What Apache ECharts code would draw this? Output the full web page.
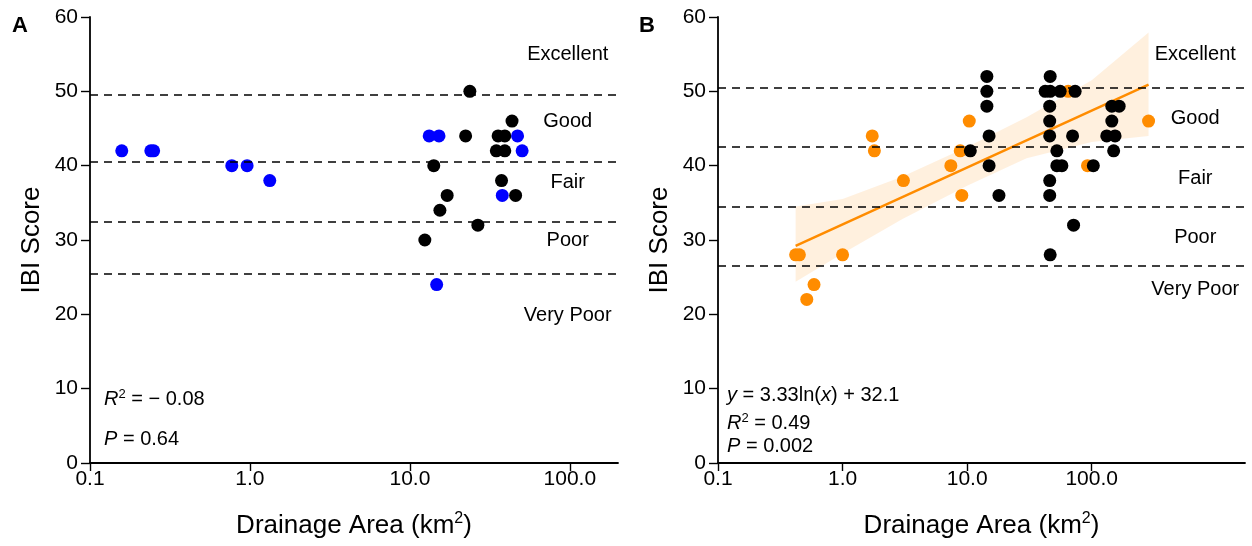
<!DOCTYPE html>
<html>
<head>
<meta charset="utf-8">
<script src="https://cdn.jsdelivr.net/npm/echarts@6/dist/echarts.min.js"></script>
<style>
html,body{margin:0;padding:0;background:#fff;}
#c{width:1252px;height:546px;}
</style>
</head>
<body>
<div id="c"></div>
<script>
// ---------- data ----------
const xTickValues = [0.1, 1, 10, 100];
const xTickLabels = ['0.1', '1.0', '10.0', '100.0'];
const yTicks = [0, 10, 20, 30, 40, 50, 60];

// Panel A
const aBlackX = [12.4, 14.1, 15.4, 17.1, 22.3, 23.7, 26.6, 35.6, 39.2, 34.7, 39.2, 37.4, 43.5, 45.8];
const aBlackY = [30, 40, 34, 36, 44, 50, 32, 44, 44, 42, 42, 38, 46, 36];
const aBlueX = [0.158, 0.24, 0.25, 0.77, 0.96, 1.33, 13.2, 15.2, 47.1, 50.3, 37.8, 14.7];
const aBlueY = [42, 42, 42, 40, 40, 38, 44, 44, 44, 42, 36, 24];
const aThresholds = [49.5, 40.5, 32.5, 25.5];
const classNames = ['Excellent', 'Good', 'Fair', 'Poor', 'Very Poor'];
const aClassY = [55, 46, 37.8, 29.9, 19.9];
const aClassX = 97;

// Panel B
const bBlackX = [10.6, 14.4, 14.4, 14.4, 15, 15, 18, 46.4, 42.3, 46.4, 55.8, 73.6, 46, 46, 46, 70.2, 52.5, 52.5, 57.6, 46, 46, 71.5, 46.4, 145, 166, 145, 132, 154, 150, 103];
const bBlackY = [42, 52, 50, 48, 44, 40, 36, 52, 50, 50, 50, 50, 48, 46, 44, 44, 42, 40, 40, 38, 36, 32, 28, 48, 48, 46, 44, 44, 42, 40];
const bOrangeX = [0.42, 0.45, 1.0, 0.59, 0.516, 1.73, 1.8, 3.08, 7.4, 9.06, 8.8, 10.4, 64.7, 92.5, 286];
const bOrangeY = [28, 28, 28, 24, 22, 44, 42, 38, 40, 36, 42, 46, 50, 40, 46];
const bThresholds = [50.5, 42.5, 34.5, 26.5];
const bClassY = [54.9, 46.4, 38.3, 30.3, 23.3];
const bClassX = 678;
const fitX = [0.42, 286];
const fitY = [29.2, 50.9];
const bandX = [0.42, 1, 3, 10, 30, 100, 286];
const bandUpper = [34.5, 35.5, 38.5, 42.5, 46.5, 51.5, 57.9];
const bandLower = [24.4, 28.2, 32.8, 37.3, 41.0, 43.2, 44.0];

// ---------- chart ----------
const FONT = 'Liberation Sans, Arial, sans-serif';
const zip = (xs, ys) => xs.map((x, i) => [x, ys[i]]);

function xAxisCfg(gridIndex, max) {
  return {
    type: 'log', logBase: 10, gridIndex, min: 0.1, max,
    name: '{n|Drainage Area (km}{s|2}{n|)}', nameLocation: 'middle', nameGap: 48,
    nameTextStyle: {
      fontSize: 26, color: '#000', fontFamily: FONT,
      rich: {
        n: { fontSize: 26, fontFamily: FONT, color: '#000', lineHeight: 30 },
        s: { fontSize: 16, fontFamily: FONT, color: '#000', verticalAlign: 'top', lineHeight: 30 }
      }
    },
    axisLine: { show: true, lineStyle: { color: '#000', width: 1.8 } },
    axisTick: { show: true, length: 8, lineStyle: { color: '#000', width: 1.4 }, customValues: xTickValues },
    axisLabel: {
      fontSize: 21, color: '#000', fontFamily: FONT, margin: 6,
      customValues: xTickValues,
      formatter: v => { const i = xTickValues.findIndex(t => Math.abs(t - v) < 1e-9 * Math.max(1, t)); return i >= 0 ? xTickLabels[i] : ''; }
    },
    splitLine: { show: false }, minorTick: { show: false }
  };
}
function yAxisCfg(gridIndex) {
  return {
    type: 'value', gridIndex, min: yTicks[0], max: yTicks[yTicks.length - 1], interval: 10,
    name: 'IBI Score', nameLocation: 'middle', nameGap: 45,
    nameTextStyle: { fontSize: 26, color: '#000', fontFamily: FONT },
    axisLine: { show: true, lineStyle: { color: '#000', width: 1.8 } },
    axisTick: { show: true, length: 9, lineStyle: { color: '#000', width: 1.4 } },
    axisLabel: { fontSize: 21, color: '#000', fontFamily: FONT, margin: 12 },
    splitLine: { show: false }
  };
}
function dashLines(vals) {
  return {
    silent: true, symbol: 'none', label: { show: false },
    lineStyle: { color: '#000', type: [8, 6], width: 1.7 },
    data: vals.map(v => ({ yAxis: v }))
  };
}
function classLabels(idx, xv, ys) {
  return {
    type: 'scatter', xAxisIndex: idx, yAxisIndex: idx, silent: true, symbolSize: 0, z: 5,
    data: classNames.map((n, i) => ({ name: n, value: [xv, ys[i]] })),
    label: {
      show: true, position: 'inside', formatter: '{b}', fontSize: 20, color: '#000', fontFamily: FONT,
      textBorderWidth: 0, textShadowBlur: 0, opacity: 1
    },
    itemStyle: { opacity: 1 }
  };
}
const dot = (idx, data, color, z) => ({
  type: 'scatter', xAxisIndex: idx, yAxisIndex: idx, data, symbolSize: 13, z,
  itemStyle: { color, opacity: 1 }, silent: true
});

const rich = {
  i: { fontStyle: 'italic', fontSize: 20, fontFamily: FONT, color: '#000' },
  n: { fontSize: 20, fontFamily: FONT, color: '#000' },
  s: { fontSize: 13, fontFamily: FONT, color: '#000', verticalAlign: 'top', lineHeight: 22 }
};
const txt = (left, top, text) => ({ type: 'text', left, top, style: { text, rich, fill: '#000' } });

const option = {
  animation: false,
  textStyle: { fontFamily: FONT },
  grid: [
    { left: 90, top: 17, width: 528, height: 446, containLabel: false },
    { left: 718, top: 17, width: 527, height: 446, containLabel: false }
  ],
  xAxis: [xAxisCfg(0, 200), xAxisCfg(1, 1700)],
  yAxis: [yAxisCfg(0), yAxisCfg(1)],
  series: [
    { type: 'line', xAxisIndex: 0, yAxisIndex: 0, data: [], markLine: dashLines(aThresholds) },
    dot(0, zip(aBlackX, aBlackY), '#000000', 3),
    dot(0, zip(aBlueX, aBlueY), '#0000ff', 4),
    classLabels(0, aClassX, aClassY),
    {
      type: 'custom', xAxisIndex: 1, yAxisIndex: 1, silent: true, z: 1,
      data: [[1, 30]],
      renderItem: (params, api) => {
        const pts = [];
        bandX.forEach((x, i) => pts.push(api.coord([x, bandUpper[i]])));
        for (let i = bandX.length - 1; i >= 0; i--) pts.push(api.coord([bandX[i], bandLower[i]]));
        return { type: 'polygon', shape: { points: pts }, style: { fill: 'rgba(255,140,0,0.13)' } };
      }
    },
    { type: 'line', xAxisIndex: 1, yAxisIndex: 1, data: [], markLine: dashLines(bThresholds), z: 2 },
    {
      type: 'line', xAxisIndex: 1, yAxisIndex: 1, data: zip(fitX, fitY), symbol: 'none', z: 2,
      lineStyle: { color: '#ff8c00', width: 2.5 }, silent: true
    },
    dot(1, zip(bOrangeX, bOrangeY), '#ff8c00', 3),
    dot(1, zip(bBlackX, bBlackY), '#000000', 4),
    classLabels(1, bClassX, bClassY)
  ],
  graphic: [
    { type: 'text', left: 12, top: 15, style: { text: 'A', fontSize: 22, fontWeight: 'bold', fontFamily: FONT, fill: '#000' } },
    { type: 'text', left: 639, top: 15, style: { text: 'B', fontSize: 22, fontWeight: 'bold', fontFamily: FONT, fill: '#000' } },
    txt(104, 388, '{i|R}{s|2}{n| = − 0.08}'),
    txt(104, 429, '{i|P}{n| = 0.64}'),
    txt(727, 385, '{i|y}{n| = 3.33ln(}{i|x}{n|) + 32.1}'),
    txt(727, 412, '{i|R}{s|2}{n| = 0.49}'),
    txt(727, 436, '{i|P}{n| = 0.002}')
  ]
};
const chart = echarts.init(document.getElementById('c'), null, { renderer: 'canvas' });
chart.setOption(option);
</script>
</body>
</html>
